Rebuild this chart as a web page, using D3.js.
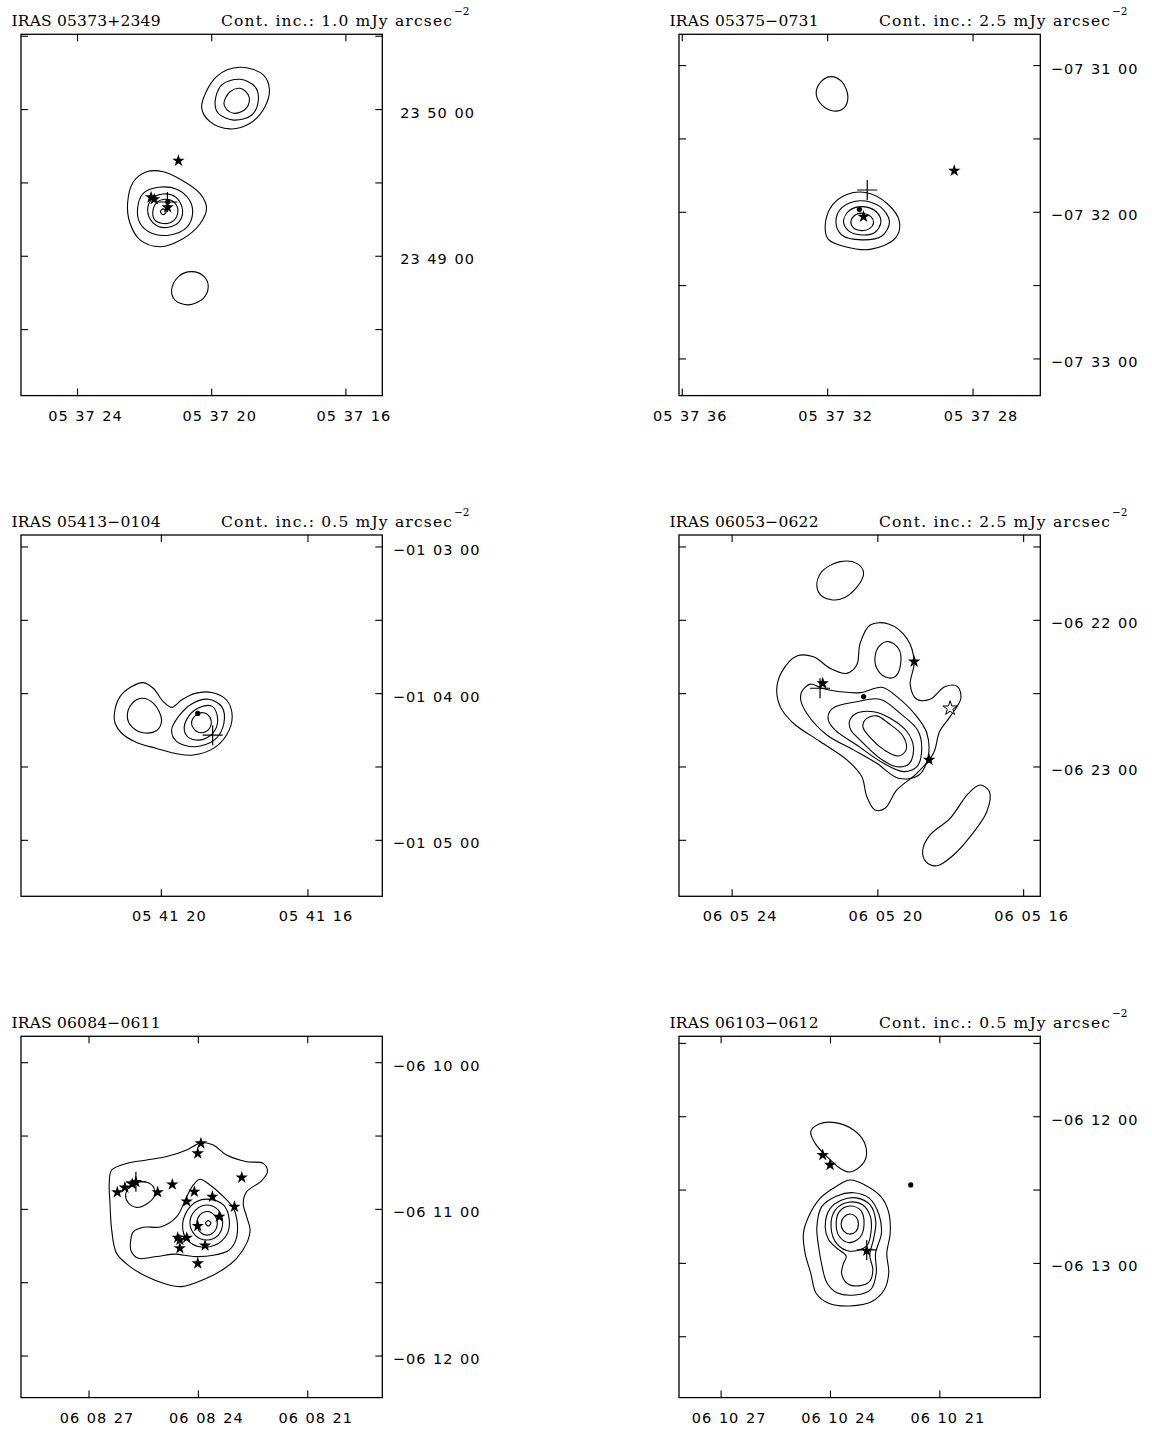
<!DOCTYPE html>
<meta charset="utf-8">
<style>
body { margin: 0; background: #fff; }
svg { display: block; }
.title { font-family: "DejaVu Serif", serif; font-size: 15.5px; fill: #000; }
.tick-label { font-family: "DejaVu Sans", sans-serif; font-size: 14.5px; letter-spacing: 1px; word-spacing: 1px; fill: #000; }
</style>
<body>
<script src="https://d3js.org/d3.v7.min.js"></script>
<script>

// panel headers and coordinates of each map centre
var names = ["IRAS 05373+2349", "IRAS 05375\u22120731", "IRAS 05413\u22120104",
             "IRAS 06053\u22120622", "IRAS 06084\u22120611", "IRAS 06103\u22120612"];
var contIncs = ["1.0", "2.5", "0.5", "2.5", null, "0.5"];
var raPrefix = ["05 37", "05 37", "05 41", "06 05", "06 08", "06 10"];
var raCenterSec = [20.30, 31.12, 18.90, 20.50, 23.91, 23.20];
var decCenterSec = [85756.9, -27121.1, -3849.0, -22959.0, -22263.1, -22361.0]; // arcsec
var raTickSecs = [[24, 20, 16], [36, 32, 28], [20, 16], [24, 20, 16], [27, 24, 21], [27, 24, 21]];

// contours: [dRA (arcsec, east +), dDec (arcsec, north +)] offsets from map centre
var contours1 = [
  [[0,44.0],[-6.1,56.6],[-15.7,60.4],[-25.2,57.3],[-27.7,51.4],[-25.9,44.3],[-19.8,37.5],[-11.6,35.2],[-3.4,38.2]],
  [[-5.5,46.3],[-8.2,53.2],[-15.7,55.5],[-21.8,52.5],[-23.2,47.0],[-20.5,40.9],[-13.0,38.8],[-6.8,41.6]],
  [[-9.1,45.7],[-11.6,50.4],[-15.7,51.8],[-19.1,49.1],[-19.1,45.0],[-16.4,42.3],[-13.0,41.6],[-10.2,43.2]],
  [[30.3,4.8],[27.9,13.6],[22.5,17.7],[15.7,17.7],[8.2,14.3],[0.7,8.8],[-2.0,2.7],[0.7,-3.7],[7.5,-9.6],[17.0,-13.0],[25.2,-10.2],[29.3,-3.4]],
  [[26.2,2.7],[23.9,8.8],[17.7,11.3],[10.2,10.5],[5.0,6.1],[3.7,0.7],[6.1,-5.1],[12.9,-8.2],[20.4,-7.5],[25.2,-3.4]],
  [[22.1,2.0],[20.4,6.5],[15.7,8.6],[10.5,7.2],[7.8,2.0],[9.5,-3.1],[15.0,-5.2],[20.0,-3.1]],
  [[20.0,1.2],[18.4,5.0],[14.7,6.4],[10.9,4.8],[9.8,0.7],[12.3,-2.9],[16.4,-3.4],[19.4,-1.8]],
  [[16.9,1.3],[15.7,2.5],[14.5,1.3],[15.7,0.1]],
  [[12.3,-30.7],[9.5,-25.2],[4.1,-23.2],[-1.0,-25.2],[-2.7,-29.1],[-0.7,-34.1],[5.4,-36.8],[10.9,-34.8]]
];
var contours2 = [
  [[17.8,49.8],[15.5,54.8],[11.8,56.6],[7.3,54.5],[4.8,48.4],[6.6,43.6],[10.7,42.5],[15.5,45.0]],
  [[14.1,-4.5],[11.4,3.7],[5.2,8.4],[-2.9,9.1],[-11.1,4.8],[-16.3,-2.8],[-14.5,-9.6],[-4.3,-14.1],[5.9,-13.0],[12.8,-10.0]],
  [[9.7,-2.8],[7.3,3.0],[-0.2,5.8],[-8.4,3.4],[-12.2,-2.8],[-9.1,-8.6],[-0.9,-10.2],[7.3,-8.2]],
  [[6.6,-2.5],[4.2,1.8],[-1.3,3.4],[-6.8,1.3],[-8.7,-2.8],[-6.3,-7.1],[-0.9,-8.2],[4.6,-6.4]],
  [[3.6,-2.8],[1.8,0],[-1.3,0.7],[-4.6,-0.7],[-5.7,-3.2],[-4.0,-5.6],[-0.9,-6.4],[2.5,-5.3]]
];
var contours3 = [
  [[35.7,0.9],[33.4,7.8],[28.6,11.9],[23.9,13.5],[19.8,11.2],[15.7,5.7],[12.3,3.4],[8.2,6.4],[2.7,9.1],[-4.1,9.5],[-10.2,6.4],[-12.5,-0.4],[-10.2,-7.9],[-4.8,-13.4],[3.4,-16.1],[9.5,-15.7],[18.4,-13.4],[26.6,-11.0],[32.7,-7.2],[35.4,-3.1]],
  [[30.4,-0.4],[28.6,4.8],[24.5,7.1],[19.5,4.8],[16.4,-1.8],[18.4,-6.1],[23.9,-7.0],[28.6,-4.5]],
  [[12.3,-5.9],[9.5,-0.4],[4.1,4.8],[-2.7,6.7],[-8.2,3.7],[-9.1,-3.1],[-5.5,-9.7],[2.7,-12.7],[10.2,-10.6]],
  [[7.1,-5.9],[5.4,-0.4],[0.7,3.4],[-4.1,3.9],[-6.4,-0.1],[-5.5,-5.9],[-0.7,-9.7],[4.8,-9.3]],
  [[4.1,-3.4],[2.7,-0.1],[-0.7,1.2],[-3.4,-0.7],[-3.7,-4.2],[-1.4,-6.7],[2.0,-6.5]]
];
var contours4 = [
  [[17.5,52.8],[15.5,58.9],[8.0,63.0],[1.2,62.3],[-1.6,58.5],[1.2,52.5],[8.0,47.6],[14.8,48.4]],
  [[-25.8,-55.0],[-28.8,-48.8],[-37.0,-42.0],[-44.5,-31.8],[-49.3,-28.4],[-53.1,-31.1],[-52.0,-39.3],[-45.2,-49.5],[-38.4,-57.0],[-31.6,-61.4],[-27.1,-59.7]],
  [[33.9,11.2],[31.8,18.0],[25.7,24.4],[18.9,24.1],[12.1,19.4],[5.2,17.3],[1.2,20.7],[-0.2,29.6],[-4.3,37.1],[-11.8,37.5],[-19.3,31.6],[-22.3,22.1],[-20.7,12.5],[-23.4,6.7],[-28.8,6.7],[-35.0,11.9],[-40.0,11.9],[-41.4,7.1],[-37.0,-0.4],[-32.7,-6.5],[-30.2,-15.4],[-23.4,-23.6],[-15.2,-30.4],[-10.4,-37.9],[-6.3,-38.6],[-2.9,-33.1],[-0.9,-25.0],[5.2,-18.1],[16.2,-10.6],[27.1,-3.1],[32.5,3.7]],
  [[-6.3,24.1],[-8.1,28.5],[-11.8,30.3],[-15.9,27.5],[-16.8,21.4],[-14.5,15.9],[-10.4,15.9],[-7.0,19.4]],
  [[23.7,9.8],[20.2,12.9],[15.5,11.2],[8.0,9.8],[-0.2,9.4],[-9.1,11.6],[-15.2,7.8],[-23.4,-0.4],[-27.5,-7.2],[-28.0,-16.8],[-24.0,-24.5],[-15.9,-25.6],[-7.0,-19.5],[2.5,-14.0],[13.4,-7.9],[21.6,0.9],[24.1,6.4]],
  [[12.3,1.6],[9.3,3.9],[1.2,5.7],[-8.4,6.7],[-16.6,0.9],[-23.7,-5.9],[-25.4,-13.4],[-23.4,-20.9],[-17.9,-22.9],[-9.8,-19.5],[1.2,-12.0],[10.0,-5.9],[12.8,-1.8]],
  [[4.2,-2.5],[1.8,0.7],[-5.7,1.6],[-12.5,-1.1],[-19.3,-6.5],[-22.0,-12.7],[-20.4,-19.5],[-15.2,-20.9],[-8.4,-17.5],[-0.2,-10.0],[3.6,-5.9]],
  [[-1.3,-4.5],[-2.9,-1.1],[-7.0,-0.1],[-11.8,-3.1],[-17.9,-8.6],[-19.0,-14.0],[-15.9,-16.5],[-10.4,-14.3],[-5.0,-9.7]]
];
var contours5 = [
  [[37.8,13.8],[36.8,19.2],[30.7,21.9],[22.5,23.3],[14.3,24.7],[6.1,27.4],[0,30.4],[-4.8,29.4],[-10.2,25.3],[-18.4,22.6],[-25.2,21.9],[-26.9,18.5],[-24.5,14.8],[-18.4,10.3],[-17.0,5.6],[-18.4,0.1],[-19.8,-5.3],[-18.4,-10.8],[-14.3,-16.9],[-8.9,-21.4],[-2.0,-25.1],[8.2,-28.5],[15.7,-27.1],[22.5,-24.4],[29.3,-20.3],[34.8,-14.9],[36.8,-5.3],[37.5,5.6]],
  [[31.1,9.0],[28.6,13.1],[23.9,14.4],[19.8,12.4],[19.5,8.3],[22.5,5.3],[26.6,3.9],[30.0,5.8]],
  [[29.0,-9.4],[27.9,-6.0],[23.9,-4.2],[16.4,-4.0],[10.2,0.1],[6.1,8.3],[3.4,13.1],[0.7,15.4],[-3.4,13.1],[-8.9,8.3],[-13.0,3.5],[-14.6,-2.6],[-14.0,-9.4],[-11.3,-13.5],[-4.8,-15.7],[3.4,-16.2],[10.9,-15.2],[18.4,-16.2],[25.9,-16.9],[28.9,-13.8]],
  [[7.8,-4.0],[6.1,2.2],[2.0,6.3],[-3.4,7.2],[-8.9,4.9],[-11.3,-1.2],[-10.2,-7.4],[-5.5,-11.5],[1.4,-12.1],[6.1,-9.1]],
  [[4.8,-2.3],[2.7,2.6],[-2.0,4.9],[-6.8,2.8],[-8.6,-2.3],[-6.8,-7.4],[-2.0,-9.4],[2.7,-7.4]],
  [[2.0,-2.6],[0.7,0.8],[-2.3,2.2],[-5.5,0.4],[-6.4,-2.9],[-4.8,-6.4],[-1.8,-7.4],[1.1,-5.6]],
  [[-1.6,-2.6],[-2.7,-1.5],[-3.8,-2.6],[-2.7,-3.7]]
];
var contours6 = [
  [[20.0,34.9],[16.8,37.9],[10.0,38.6],[2.5,35.6],[-1.8,30.8],[-2.7,24.7],[-0.2,20.6],[4.2,18.4],[8.0,19.9],[13.4,24.7],[18.2,30.1]],
  [[3.9,15.1],[-2.9,12.7],[-8.7,8.3],[-11.8,2.2],[-12.5,-6.7],[-11.1,-14.9],[-11.9,-23.0],[-10.0,-29.9],[-5.0,-34.6],[3.9,-36.4],[12.7,-35.3],[17.8,-31.2],[20.0,-23.0],[22.3,-14.9],[23.0,-6.7],[20.9,0.1],[16.2,7.6],[9.3,12.7]],
  [[17.5,-4.0],[15.5,4.2],[9.3,8.6],[2.5,9.9],[-4.0,7.6],[-7.9,1.0],[-8.9,-6.7],[-6.5,-14.9],[-6.8,-23.0],[-4.6,-29.6],[1.8,-31.9],[9.3,-31.0],[13.4,-26.9],[15.5,-19.6],[16.8,-12.1]],
  [[14.1,-4.0],[12.3,3.1],[7.3,6.9],[1.4,7.8],[-4.3,4.9],[-6.6,-1.9],[-5.6,-9.5],[-4.1,-15.5],[-5.4,-21.7],[-4.0,-26.5],[0.5,-28.2],[5.2,-27.1],[7.4,-23.0],[6.6,-19.0],[5.5,-16.0],[9.3,-12.8],[12.8,-9.1]],
  [[11.7,-4.0],[10.0,2.8],[4.6,6.0],[-1.2,5.0],[-4.4,0.1],[-4.6,-6.5],[-2.9,-11.8],[3.9,-14.0],[9.3,-11.0]],
  [[9.6,-2.9],[8.3,2.2],[3.9,4.5],[-0.5,2.6],[-1.8,-2.9],[-0.2,-8.3],[4.2,-10.5],[8.3,-8.0]],
  [[7.6,-2.9],[6.3,0.1],[3.9,1.2],[1.4,-0.1],[0.5,-2.9],[1.6,-6.0],[4.2,-7.0],[6.6,-5.7]]
];

// sources overplotted on each map
var stars1 = [[9.5,22.2],[20.7,7.2],[19.4,6.4],[13.9,3.1]];
var stars2 = [[-1.6,-0.7],[-38.7,18.1]];
var stars3 = [];
var stars4 = [[15.1,13.2],[-22.3,22.1],[-28.4,-18.1]];
var stars5 = [[0.3,30.1],[1.6,26.0],[-16.4,16.1],[12.0,13.3],[18.0,10.1],[34.5,10.1],[31.4,12.0],[28.4,13.5],
              [26.9,14.3],[3.0,10.3],[6.1,6.3],[-4.4,8.3],[-13.4,4.2],[-7.2,0.1],[1.6,-3.7],[9.8,-8.5],
              [8.9,-9.4],[6.1,-8.5],[8.9,-12.8],[-1.4,-11.7],[1.6,-19.0]];
var stars6 = [[15.1,25.3],[12.1,21.3],[-2.9,-13.8]];
var openStars = [[], [], [], [[-37.0,3.0]], [], []];
var dots = [[[13.9,5.4]], [[0.1,2.3]], [[1.6,0.9]], [[-1.6,7.8]], [], [[-20.9,13.1]]];
var pluses = [[14.0,5.3], [-3.1,10.2], [-4.5,-8.0], [16.2,11.2], [26.9,14.4], [-2.9,-13.5]];

var allContours = [contours1, contours2, contours3, contours4, contours5, contours6];
var allStars = [stars1, stars2, stars3, stars4, stars5, stars6];

// layout
var boxSize = 361.3, half = 73.9;
var colX = [21, 679], rowY = [34.3, 535, 1036.3];
var tickLen = 7;

var svg = d3.select("body").append("svg")
    .attr("width", 1152)
    .attr("height", 1430);

function pad(n) { return (n < 10 ? "0" : "") + n; }
function decLabel(v) {
  var a = Math.abs(v);
  var d = Math.floor(a / 3600), m = Math.floor((a % 3600) / 60), s = Math.round(a % 60);
  return (v < 0 ? "\u2212" : "") + pad(d) + " " + pad(m) + " " + pad(s);
}

names.forEach(function(name, i) {
  var left = colX[i % 2], top = rowY[Math.floor(i / 2)];
  var right = left + boxSize, bottom = top + boxSize;

  var x = d3.scaleLinear().domain([half, -half]).range([left, right]);
  var y = d3.scaleLinear().domain([half, -half]).range([top, bottom]);

  var dec0 = decCenterSec[i];
  var cosd = Math.cos(Math.abs(dec0) / 3600 * Math.PI / 180);

  var g = svg.append("g");

  // header
  g.append("text").attr("class", "title")
      .attr("x", left - 9.5).attr("y", top - 8)
      .attr("textLength", 149).attr("lengthAdjust", "spacing")
      .text(name);
  if (contIncs[i]) {
    g.append("text").attr("class", "title")
        .attr("x", left + 200).attr("y", top - 8)
        .attr("textLength", 231).attr("lengthAdjust", "spacing")
        .text("Cont. inc.: " + contIncs[i] + " mJy arcsec");
    g.append("text").attr("class", "title")
        .attr("x", left + 433).attr("y", top - 19)
        .style("font-size", "10.5px")
        .text("\u22122");
  }

  // frame
  g.append("rect")
      .attr("x", left).attr("y", top)
      .attr("width", boxSize).attr("height", boxSize)
      .attr("fill", "none").attr("stroke", "#000").attr("stroke-width", 1.3);

  // RA ticks (top and bottom) with labels
  var raTicks = raTickSecs[i].map(function(s) {
    return { off: (s - raCenterSec[i]) * 15 * cosd, label: raPrefix[i] + " " + pad(s) };
  });
  raTicks.forEach(function(t) {
    var px = x(t.off);
    g.append("line").attr("x1", px).attr("x2", px).attr("y1", bottom).attr("y2", bottom - tickLen)
        .attr("stroke", "#000").attr("stroke-width", 1.1);
    g.append("line").attr("x1", px).attr("x2", px).attr("y1", top).attr("y2", top + tickLen)
        .attr("stroke", "#000").attr("stroke-width", 1.1);
    g.append("text").attr("class", "tick-label")
        .attr("x", px + 8).attr("y", bottom + 25)
        .attr("text-anchor", "middle")
        .text(t.label);
  });

  // Dec ticks every 30 arcsec, labelled each minute
  var lo = Math.ceil((dec0 - half) / 30) * 30, hi = Math.floor((dec0 + half) / 30) * 30;
  var decTicks = d3.range(lo, hi + 1, 30);
  decTicks.forEach(function(v) {
    var py = y(v - dec0);
    g.append("line").attr("x1", left).attr("x2", left + tickLen).attr("y1", py).attr("y2", py)
        .attr("stroke", "#000").attr("stroke-width", 1.1);
    g.append("line").attr("x1", right).attr("x2", right - tickLen).attr("y1", py).attr("y2", py)
        .attr("stroke", "#000").attr("stroke-width", 1.1);
    if (Math.abs(v % 60) === 0) {
      g.append("text").attr("class", "tick-label")
          .attr("x", right + (v < 0 ? 10.5 : 18)).attr("y", py + 8)
          .text(decLabel(v));
    }
  });

  // contours
  var line = d3.line()
      .x(function(d) { return x(d[0]); })
      .y(function(d) { return y(d[1]); })
      .curve(d3.curveCatmullRomClosed.alpha(0.5));

  g.append("g").selectAll("path")
    .data(allContours[i])
    .enter().append("path")
      .attr("d", line)
      .attr("fill", "none")
      .attr("stroke", "#000")
      .attr("stroke-width", 1.1);

  // markers
  var star = d3.symbol().type(d3.symbolStar).size(48);
  var bigStar = d3.symbol().type(d3.symbolStar).size(64);

  g.append("g").selectAll("path")
    .data(allStars[i])
    .enter().append("path")
      .attr("transform", function(d) { return "translate(" + x(d[0]) + "," + y(d[1]) + ")"; })
      .attr("d", star)
      .attr("fill", "#000");

  g.append("g").selectAll("path")
    .data(openStars[i])
    .enter().append("path")
      .attr("transform", function(d) { return "translate(" + x(d[0]) + "," + y(d[1]) + ")"; })
      .attr("d", bigStar)
      .attr("fill", "#fff").attr("stroke", "#000").attr("stroke-width", 1);

  g.append("g").selectAll("circle")
    .data(dots[i])
    .enter().append("circle")
      .attr("cx", function(d) { return x(d[0]); })
      .attr("cy", function(d) { return y(d[1]); })
      .attr("r", 2.6)
      .attr("fill", "#000");

  var p = pluses[i], px = x(p[0]), py = y(p[1]);
  g.append("path")
      .attr("d", "M" + (px - 10) + "," + py + "H" + (px + 10) + "M" + px + "," + (py - 10) + "V" + (py + 10))
      .attr("stroke", "#000").attr("stroke-width", 1.2);
});

</script>
</body>
